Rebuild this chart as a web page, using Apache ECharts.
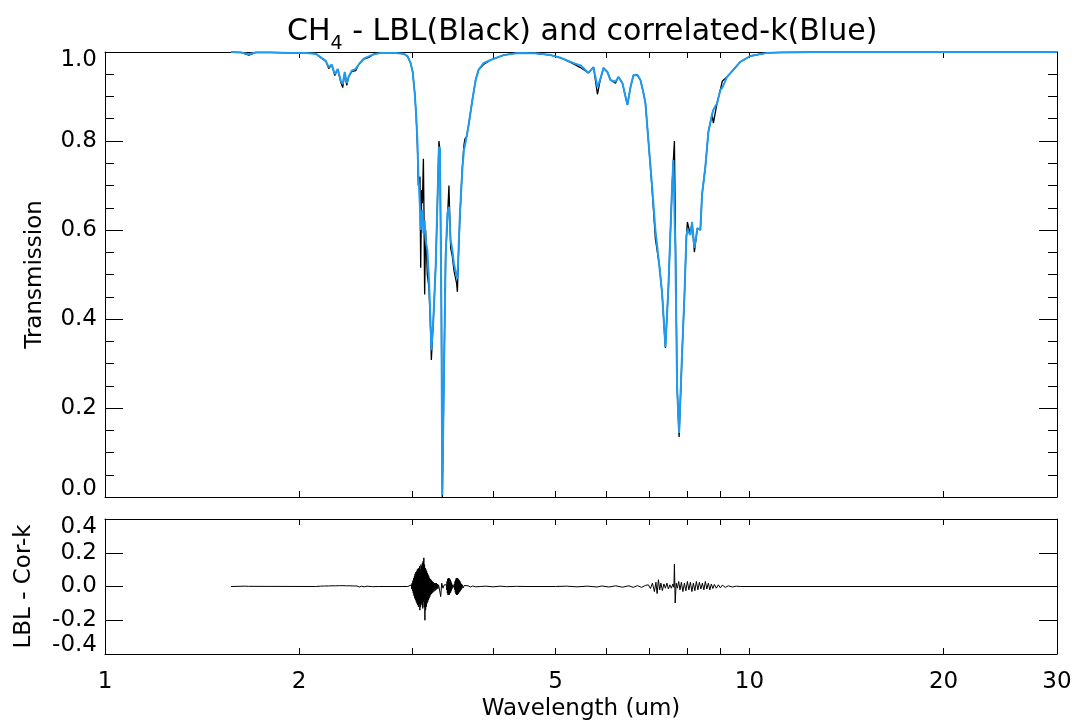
<!DOCTYPE html>
<html>
<head>
<meta charset="utf-8">
<title>CH4 - LBL and correlated-k</title>
<script src="https://cdn.jsdelivr.net/npm/echarts@6/dist/echarts.min.js"></script>
<style>
  html, body { margin: 0; padding: 0; background: #fff; }
  #chart { width: 1074px; height: 720px; }
</style>
</head>
<body>
<div id="chart"></div>
<script>
// wavelength grid (um), shared by both transmission curves
var wavelength = [
  1.568, 1.625, 1.672, 1.714, 1.809, 1.942, 2.049, 2.124, 2.162, 2.201,
  2.224, 2.248, 2.273, 2.297, 2.322, 2.338, 2.355, 2.372, 2.389, 2.415,
  2.449, 2.476, 2.520, 2.566, 2.612, 2.678, 2.825, 2.907, 2.949, 2.980,
  3.002, 3.023, 3.039, 3.053, 3.063, 3.081, 3.089, 3.100, 3.108, 3.119,
  3.125, 3.133, 3.144, 3.163, 3.182, 3.201, 3.209, 3.232, 3.259, 3.278,
  3.297, 3.309, 3.326, 3.337, 3.357, 3.377, 3.398, 3.417, 3.438, 3.459,
  3.478, 3.512, 3.522, 3.533, 3.554, 3.584, 3.605, 3.618, 3.640, 3.670,
  3.715, 3.759, 3.799, 3.867, 3.965, 4.154, 4.366, 4.656, 4.912, 5.091,
  5.333, 5.467, 5.626, 5.727, 5.809, 5.872, 5.935, 6.020, 6.085, 6.195,
  6.261, 6.351, 6.420, 6.466, 6.535, 6.606, 6.701, 6.773, 6.846, 6.895,
  6.969, 7.062, 7.145, 7.248, 7.318, 7.405, 7.485, 7.584, 7.619, 7.647,
  7.674, 7.721, 7.776, 7.860, 7.925, 7.981, 8.010, 8.096, 8.145, 8.213,
  8.301, 8.390, 8.441, 8.541, 8.633, 8.748, 8.789, 8.906, 9.011, 9.076,
  9.229, 9.439, 9.678, 10.03, 10.64, 11.16, 12.87, 17.13, 24.47, 30.0
];
// correlated-k transmission (blue)
var transCk = [
  1.000, 0.999, 0.995, 0.999, 0.999, 0.998, 0.998, 0.996, 0.988, 0.980,
  0.966, 0.972, 0.950, 0.962, 0.935, 0.928, 0.955, 0.930, 0.945, 0.958,
  0.962, 0.972, 0.985, 0.990, 0.995, 0.998, 0.998, 0.996, 0.990, 0.975,
  0.955, 0.910, 0.860, 0.800, 0.727, 0.652, 0.600, 0.630, 0.645, 0.593,
  0.610, 0.622, 0.578, 0.555, 0.488, 0.383, 0.330, 0.398, 0.518, 0.652,
  0.787, 0.780, 0.428, 0.004, 0.278, 0.540, 0.637, 0.652, 0.578, 0.555,
  0.525, 0.495, 0.490, 0.540, 0.637, 0.735, 0.780, 0.790, 0.810, 0.840,
  0.892, 0.937, 0.960, 0.975, 0.982, 0.993, 0.998, 0.997, 0.993, 0.987,
  0.975, 0.970, 0.953, 0.966, 0.921, 0.940, 0.964, 0.955, 0.937, 0.933,
  0.944, 0.930, 0.900, 0.881, 0.920, 0.948, 0.948, 0.937, 0.908, 0.885,
  0.800, 0.697, 0.600, 0.517, 0.458, 0.337, 0.472, 0.697, 0.757, 0.760,
  0.548, 0.247, 0.144, 0.324, 0.450, 0.584, 0.600, 0.589, 0.618, 0.560,
  0.604, 0.600, 0.680, 0.742, 0.820, 0.860, 0.870, 0.885, 0.915, 0.920,
  0.944, 0.960, 0.978, 0.991, 0.998, 0.999, 1.000, 1.000, 1.000, 1.000
];
// line-by-line transmission (black)
var transLbl = [
  1.000, 0.999, 0.993, 0.999, 0.999, 0.998, 0.998, 0.996, 0.987, 0.979,
  0.963, 0.971, 0.947, 0.961, 0.932, 0.920, 0.953, 0.925, 0.945, 0.956,
  0.958, 0.972, 0.984, 0.988, 0.995, 0.998, 0.998, 0.996, 0.990, 0.975,
  0.955, 0.910, 0.860, 0.790, 0.700, 0.720, 0.515, 0.690, 0.660, 0.760,
  0.650, 0.455, 0.600, 0.500, 0.470, 0.370, 0.308, 0.400, 0.518, 0.652,
  0.800, 0.780, 0.428, 0.000, 0.278, 0.540, 0.620, 0.700, 0.560, 0.540,
  0.510, 0.480, 0.461, 0.530, 0.630, 0.740, 0.790, 0.805, 0.810, 0.840,
  0.892, 0.937, 0.960, 0.972, 0.982, 0.993, 0.998, 0.997, 0.993, 0.987,
  0.973, 0.965, 0.953, 0.966, 0.905, 0.940, 0.964, 0.955, 0.937, 0.930,
  0.944, 0.930, 0.900, 0.881, 0.920, 0.948, 0.948, 0.937, 0.908, 0.885,
  0.800, 0.690, 0.580, 0.520, 0.458, 0.335, 0.472, 0.697, 0.757, 0.800,
  0.600, 0.247, 0.135, 0.324, 0.450, 0.584, 0.618, 0.589, 0.618, 0.550,
  0.604, 0.600, 0.680, 0.742, 0.820, 0.860, 0.840, 0.885, 0.915, 0.935,
  0.944, 0.960, 0.978, 0.991, 0.998, 0.999, 1.000, 1.000, 1.000, 1.000
];

// LBL - Cor-k difference
var diffWl = [
  1.568, 1.650, 1.660, 1.670, 1.680, 2.120,
  2.160, 2.175, 2.190, 2.205, 2.220, 2.235, 2.250, 2.265, 2.280, 2.295,
  2.310, 2.325, 2.340, 2.355, 2.370, 2.385, 2.400, 2.415, 2.430, 2.445,
  2.460, 2.480, 2.500, 2.525, 2.550, 2.600, 2.660, 2.950,
  2.988, 2.992, 2.996, 3.000, 3.004, 3.008, 3.012, 3.016, 3.020, 3.024,
  3.028, 3.032, 3.036, 3.040, 3.044, 3.048, 3.052, 3.056, 3.060, 3.064,
  3.068, 3.072, 3.076, 3.080, 3.084, 3.088, 3.092, 3.096, 3.100, 3.104,
  3.108, 3.112, 3.116, 3.120, 3.124, 3.128, 3.132, 3.136, 3.140, 3.144,
  3.148, 3.152, 3.156, 3.160, 3.164, 3.168, 3.172, 3.176, 3.180, 3.184,
  3.188, 3.192, 3.196, 3.200, 3.204, 3.208, 3.212, 3.216, 3.220, 3.226,
  3.232, 3.238, 3.244, 3.250, 3.256, 3.262, 3.268, 3.274, 3.280, 3.286,
  3.292, 3.300, 3.318, 3.330, 3.345, 3.360,
  3.386, 3.390, 3.394, 3.398, 3.402, 3.406, 3.410, 3.414, 3.418, 3.422,
  3.426, 3.430, 3.434, 3.438, 3.442, 3.446, 3.450, 3.454, 3.460, 3.468,
  3.476, 3.484, 3.488, 3.492, 3.496, 3.500, 3.504, 3.508, 3.512, 3.516,
  3.520, 3.524, 3.528, 3.532, 3.536, 3.540, 3.544, 3.548, 3.552, 3.556,
  3.560, 3.564, 3.568, 3.572, 3.578, 3.585, 3.595, 3.610, 3.630, 3.660,
  3.690, 3.720, 3.760, 3.820, 3.900, 4.000, 4.100, 4.200, 4.350, 4.500,
  5.000, 5.200, 5.400, 5.600, 5.800, 5.900, 6.050, 6.200, 6.350, 6.500,
  6.600, 6.700, 6.800, 6.900, 6.969, 7.019, 7.070, 7.120, 7.158, 7.189,
  7.222, 7.256, 7.287, 7.326, 7.365, 7.405, 7.445, 7.485, 7.525, 7.565,
  7.606, 7.633, 7.647, 7.668, 7.696, 7.729, 7.765, 7.801, 7.840, 7.882,
  7.925, 7.967, 8.010, 8.053, 8.096, 8.140, 8.183, 8.227, 8.271, 8.316,
  8.360, 8.405, 8.451, 8.496, 8.541, 8.587, 8.633, 8.680, 8.726, 8.773,
  8.820, 8.883, 8.947, 9.011, 9.076, 9.173, 9.271, 9.405, 9.540, 9.678,
  30.0
];
var diffVal = [
  0, 0.002, -0.002, 0.001, 0, 0,
  0.002, -0.002, 0.003, -0.003, 0.003, -0.004, 0.004, -0.004, 0.004, -0.005,
  0.005, -0.005, 0.005, -0.005, 0.004, -0.004, 0.004, -0.004, 0.003, -0.003,
  0.003, -0.003, 0.002, -0.002, 0.002, -0.001, 0, 0,
  0.010, -0.015, 0.020, -0.025, 0.035, -0.040, 0.050, -0.055, 0.060, -0.070,
  0.075, -0.080, 0.085, -0.090, 0.090, -0.100, 0.100, -0.110, 0.105, -0.120,
  0.110, -0.100, 0.120, -0.140, 0.100, -0.120, 0.130, -0.100, 0.120, -0.110,
  0.140, -0.130, 0.150, -0.090, 0.170, -0.120, 0.130, -0.200, 0.110, -0.140,
  0.100, -0.120, 0.090, -0.100, 0.080, -0.090, 0.070, -0.080, 0.060, -0.070,
  0.050, -0.060, 0.045, -0.050, 0.040, -0.045, 0.035, -0.040, 0.030, -0.035,
  0.025, -0.030, 0.020, -0.025, 0.020, -0.020, 0.020, -0.015, 0.015, -0.012,
  0.010, -0.008, -0.060, 0.020, -0.010, 0.010,
  0.010, -0.020, 0.030, -0.040, 0.045, -0.050, 0.050, -0.050, 0.050, -0.050,
  0.045, -0.040, 0.040, -0.035, 0.030, -0.025, 0.020, -0.015, 0.010, -0.006,
  0.004, 0.015, -0.020, 0.030, -0.035, 0.040, -0.045, 0.050, -0.050, 0.050,
  -0.050, 0.050, -0.045, 0.045, -0.040, 0.040, -0.035, 0.035, -0.030, 0.030,
  -0.025, 0.020, -0.020, 0.015, -0.012, 0.010, -0.008, 0.006, -0.005, 0.004,
  -0.003, 0.003, -0.002, 0, 0.002, -0.002, 0.002, -0.001, 0.001, 0,
  0, 0.002, -0.002, 0.002, -0.003, 0.003, -0.003, 0.004, -0.004, 0.004,
  -0.005, 0.005, -0.005, 0.007, 0.010, -0.012, 0.020, -0.030, 0.025, -0.042,
  0.040, -0.020, 0.020, -0.024, 0.015, -0.010, 0.020, -0.015, 0.010, -0.010,
  0.015, -0.005, 0.133, -0.098, 0.020, -0.010, 0.030, -0.020, 0.025, -0.030,
  0.020, -0.025, 0.030, -0.020, 0.025, -0.030, 0.020, -0.025, 0.030, -0.020,
  0.025, -0.015, 0.020, -0.020, 0.030, -0.015, 0.020, -0.020, 0.015, -0.012,
  0.012, -0.010, 0.010, -0.008, 0.008, -0.005, 0.004, -0.003, 0.002, 0,
  0
];

// axis ticks / labels (um)
var tickWl = [2, 3, 4, 5, 6, 7, 8, 9, 10, 20];
var labelWl = [1, 2, 5, 10, 20, 30];

var FONT = 'DejaVu Sans';
var xMax = Math.log10(30);

function toXY(xs, ys) {
  var out = [];
  for (var i = 0; i < xs.length; i++) {
    out.push([Math.log10(xs[i]), ys[i]]);
  }
  return out;
}

var lineBlack = { color: '#000', width: 1 };

function xAxisFor(grid, pos, showLabels, name) {
  return {
    type: 'value', gridIndex: grid, position: pos,
    min: 0, max: xMax,
    axisLine: { show: true, onZero: false, lineStyle: lineBlack },
    axisTick: { show: true, inside: true, length: 6, lineStyle: lineBlack,
      customValues: tickWl.map(Math.log10) },
    axisLabel: { show: showLabels, customValues: labelWl.map(Math.log10),
      formatter: function (v) { return String(Math.round(Math.pow(10, v))); },
      color: '#000', fontFamily: FONT, fontSize: 23, margin: 17 },
    splitLine: { show: false },
    name: name || '', nameLocation: 'middle', nameGap: 44,
    nameTextStyle: { color: '#000', fontFamily: FONT, fontSize: 23 }
  };
}

// end labels sit inside the frame, like the original plot
function yAxisFor(grid, pos, min, max, minor, showLabels, name, gap, padLo) {
  return {
    type: 'value', gridIndex: grid, position: pos,
    min: min, max: max, interval: 0.2,
    axisLine: { show: true, onZero: false, lineStyle: lineBlack },
    axisTick: { show: true, inside: true, length: 18, lineStyle: lineBlack },
    minorTick: { show: minor, splitNumber: 4, length: 9, lineStyle: lineBlack },
    axisLabel: { show: showLabels, showMinLabel: true, showMaxLabel: true,
      verticalAlignMinLabel: 'bottom', verticalAlignMaxLabel: 'top',
      formatter: function (v) {
        var s = v.toFixed(1);
        if (padLo && Math.abs(v - min) < 1e-6) return '{lo|' + s + '}';
        return s;
      },
      rich: {
        lo: { fontFamily: FONT, fontSize: 23, color: '#000', lineHeight: 16,
              padding: [0, 0, padLo || 0, 0] }
      },
      color: '#000', fontFamily: FONT, fontSize: 23, lineHeight: 16, margin: 8 },
    splitLine: { show: false }, minorSplitLine: { show: false },
    name: name || '', nameLocation: 'middle', nameGap: gap || 50,
    nameTextStyle: { color: '#000', fontFamily: FONT, fontSize: 23 }
  };
}

var chart = echarts.init(document.getElementById('chart'));
var option = {
  animation: false,
  backgroundColor: '#fff',
  title: {
    text: '{m|CH}{s|4}{m| - LBL(Black) and correlated-k(Blue)}',
    left: 287, top: 17, padding: 0,
    textStyle: {
      fontWeight: 'normal',
      rich: {
        m: { fontFamily: FONT, fontSize: 30, fontWeight: 'normal', color: '#000', lineHeight: 30, verticalAlign: 'top' },
        s: { fontFamily: FONT, fontSize: 19, fontWeight: 'normal', color: '#000', lineHeight: 37, verticalAlign: 'bottom' }
      }
    }
  },
  grid: [
    { left: 105, right: 17, top: 52, height: 445, outerBoundsMode: 'none' },
    { left: 105, right: 17, top: 519, height: 135, outerBoundsMode: 'none' }
  ],
  xAxis: [
    xAxisFor(0, 'bottom', false),
    xAxisFor(0, 'top', false),
    xAxisFor(1, 'bottom', true, 'Wavelength (um)'),
    xAxisFor(1, 'top', false)
  ],
  yAxis: [
    yAxisFor(0, 'left', 0, 1, true, true, 'Transmission', 58, 0),
    yAxisFor(0, 'right', 0, 1, true, false),
    yAxisFor(1, 'left', -0.4, 0.4, false, true, 'LBL - Cor-k', 69, 2),
    yAxisFor(1, 'right', -0.4, 0.4, false, false)
  ],
  series: [
    {
      name: 'LBL', type: 'line', xAxisIndex: 0, yAxisIndex: 0,
      data: toXY(wavelength, transLbl), showSymbol: false, symbol: 'none',
      lineStyle: { color: '#000', width: 1.3 }, z: 2
    },
    {
      name: 'Cor-k', type: 'line', xAxisIndex: 0, yAxisIndex: 0,
      data: toXY(wavelength, transCk), showSymbol: false, symbol: 'none',
      lineStyle: { color: '#1e9bf0', width: 2 }, z: 3
    },
    {
      name: 'LBL - Cor-k', type: 'line', xAxisIndex: 2, yAxisIndex: 2,
      data: toXY(diffWl, diffVal), showSymbol: false, symbol: 'none',
      lineStyle: { color: '#000', width: 1 }, z: 2
    }
  ]
};
chart.setOption(option);
</script>
</body>
</html>
